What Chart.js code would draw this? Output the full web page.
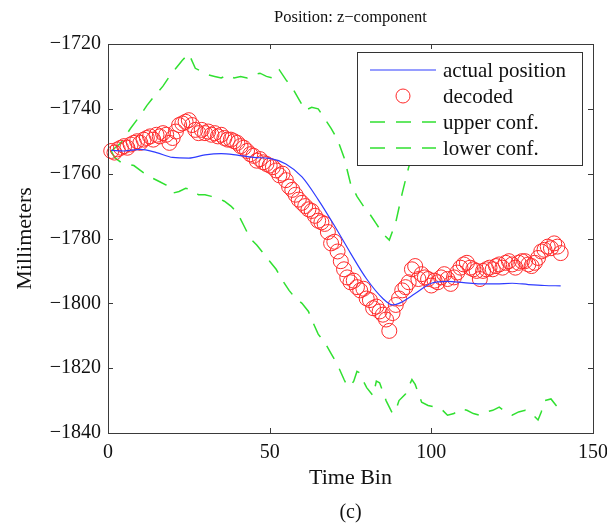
<!DOCTYPE html>
<html>
<head>
<meta charset="utf-8">
<script src="https://cdn.jsdelivr.net/npm/chart.js@4"></script>
<style>
  html, body { margin: 0; padding: 0; background: #fff; }
</style>
</head>
<body>
<canvas id="posChart" width="607" height="529"></canvas>
<script>
// decoded z position, one value per time bin (bins 1..140)
const decoded = [
  -1753, -1753.5, -1752.5, -1752, -1751.5, -1752, -1751, -1750.5, -1750, -1750.5,
  -1749.5, -1749, -1748.5, -1749.5, -1748, -1748.5, -1747.5, -1748, -1750.5, -1749,
  -1747, -1745, -1744.5, -1744, -1743.5, -1745, -1746.5, -1747.5, -1746.5, -1747.5,
  -1747, -1748, -1747.5, -1748.5, -1748, -1749, -1749.5, -1749.5, -1750, -1750.5,
  -1751.5, -1752, -1753, -1754, -1754.5, -1756, -1755.5, -1756.5, -1757, -1757.5,
  -1758, -1759, -1760.5, -1760, -1762, -1764, -1765, -1766.5, -1768, -1769,
  -1770, -1771, -1771.5, -1773, -1774.5, -1775, -1775.5, -1778, -1781.5, -1781,
  -1784, -1787, -1789.5, -1792, -1793.5, -1793, -1795, -1796, -1795.5, -1798.5,
  -1799, -1801.5, -1801, -1802.5, -1803.5, -1805, -1808.5, -1803, -1800.5, -1798.5,
  -1796, -1795, -1793.5, -1789.5, -1788.5, -1792.5, -1791, -1792, -1792.5, -1794.5,
  -1793, -1793.5, -1792, -1791, -1792.5, -1794, -1792, -1790.5, -1789, -1788,
  -1787.5, -1789, -1789.5, -1790, -1792.5, -1790, -1789.5, -1789, -1789.5, -1788.5,
  -1788, -1789, -1787.5, -1787, -1788, -1789, -1787.5, -1787, -1787, -1788,
  -1788.5, -1787.5, -1786, -1784, -1783.5, -1782.5, -1783, -1781.5, -1782.5, -1784.5
];

// actual position (smooth curve)
const actualBins = [1, 5, 10, 15, 20, 25, 30, 35, 40, 45, 50, 55, 60, 65, 70, 75, 80, 85, 88, 90, 95, 100, 105, 110, 115, 120, 125, 130, 135, 140];
const actualPos = [-1752.8, -1753, -1752.5, -1753.5, -1755, -1755.2, -1754.2, -1753.8, -1754.3, -1755, -1755.3, -1757, -1761, -1768, -1776, -1784.5, -1792.5, -1798.5, -1800.5, -1800, -1797, -1793.8, -1793.2, -1793.6, -1794, -1794, -1793.8, -1794.2, -1794.5, -1794.6];

// upper confidence bound (part of it hidden behind the legend)
const upperBins = [1, 4, 7, 10, 12, 14, 17, 19, 21, 23, 25, 27, 29, 31, 33, 35, 37, 39, 41, 43, 45, 47, 49, 51, 53, 55, 57, 59, 61, 63, 65, 67, 69, 71, 73, 75, 77, 79, 81, 83, 85, 87, 89, 91, 93, 95, 97, 100, 105, 110, 115, 120, 125, 130, 135, 140];
const upperConf = [-1753, -1750.5, -1746, -1742, -1739, -1736.5, -1733, -1730, -1727.5, -1725, -1723, -1727.5, -1728.5, -1729.5, -1730, -1730.5, -1729.5, -1730.5, -1730, -1730.5, -1729.5, -1729, -1730, -1730.5, -1728, -1731, -1733.5, -1737, -1740.5, -1739.5, -1740, -1743, -1746, -1749.5, -1755, -1763, -1767, -1770, -1772.5, -1775.5, -1778.5, -1780.5, -1775, -1766, -1758, -1752, -1748, -1746, -1744, -1743, -1745, -1744, -1742, -1743, -1741, -1740];

// lower confidence bound
const lowerBins = [1, 2, 4, 6, 8, 10, 12, 14, 16, 18, 20, 22, 24, 26, 28, 30, 32, 34, 36, 38, 40, 42, 44, 46, 48, 50, 52, 54, 56, 58, 60, 62, 63, 65, 67, 69, 71, 73, 74, 75, 76, 77, 78, 79, 80, 82, 83, 84, 86, 88, 89, 90, 92, 94, 95, 97, 99, 101, 103, 105, 107, 109, 111, 113, 115, 117, 119, 121, 123, 125, 127, 129, 131, 133, 134, 135, 137, 139, 140];
const lowerConf = [-1753, -1755, -1756.5, -1757, -1757.5, -1759, -1760.5, -1761.5, -1762.5, -1763.5, -1766, -1765.5, -1764.5, -1765, -1766.5, -1766.5, -1767, -1767.5, -1768.5, -1770, -1772, -1776, -1780, -1782, -1784.5, -1787, -1789.5, -1793, -1796, -1798.5, -1800, -1802.5, -1805, -1809.5, -1812, -1815.5, -1819, -1823.5, -1825.5, -1825.5, -1824, -1821, -1821.5, -1824, -1826, -1828.5, -1824, -1824.5, -1830, -1834, -1833, -1830, -1828, -1823.5, -1825, -1830.5, -1831.5, -1832, -1832.5, -1834.5, -1834, -1832.5, -1833, -1834, -1834.5, -1833.5, -1833, -1832, -1833.5, -1834.5, -1833.5, -1833, -1834, -1836, -1833.5, -1830, -1829.5, -1832, -1834.5];

const seriesNames = ['actual position', 'decoded', 'upper conf.', 'lower conf.'];
const xTicks = [0, 50, 100, 150];
const yTicks = [-1840, -1820, -1800, -1780, -1760, -1740, -1720];

const serif = "'Liberation Serif', 'DejaVu Serif', serif";
const blue = '#2f3cff';
const red = '#ff2a2a';
const green = '#30e030';

function pairs(xs, ys) {
  return xs.map((x, i) => ({ x: x, y: ys[i] }));
}

// axes box + inward ticks, MATLAB style
const boxPlugin = {
  id: 'box',
  afterDatasetsDraw(chart) {
    const { ctx, chartArea: a, scales } = chart;
    ctx.save();
    ctx.strokeStyle = '#3a3a3a';
    ctx.lineWidth = 1;
    ctx.beginPath();
    xTicks.forEach(v => {
      const px = Math.round(scales.x.getPixelForValue(v)) + 0.5;
      ctx.moveTo(px, a.bottom); ctx.lineTo(px, a.bottom - 5);
      ctx.moveTo(px, a.top); ctx.lineTo(px, a.top + 5);
    });
    yTicks.forEach(v => {
      const py = Math.round(scales.y.getPixelForValue(v)) + 0.5;
      ctx.moveTo(a.left, py); ctx.lineTo(a.left + 5, py);
      ctx.moveTo(a.right, py); ctx.lineTo(a.right - 5, py);
    });
    ctx.stroke();
    ctx.strokeRect(Math.round(a.left) + 0.5, Math.round(a.top) + 0.5,
                   Math.round(a.right - a.left), Math.round(a.bottom - a.top));
    ctx.restore();
  }
};

// legend box inside the axes, drawn over the data
const legendPlugin = {
  id: 'innerLegend',
  afterDatasetsDraw(chart) {
    const ctx = chart.ctx;
    const a = chart.chartArea;
    const bx = a.right - 236, by = a.top + 8, bw = 225, bh = 113;
    ctx.save();
    ctx.fillStyle = '#fff';
    ctx.fillRect(bx, by, bw, bh);
    ctx.strokeStyle = '#333';
    ctx.lineWidth = 1;
    ctx.strokeRect(Math.round(bx) + 0.5, Math.round(by) + 0.5, bw, bh);
    ctx.font = '21px ' + serif;
    ctx.textBaseline = 'middle';
    ctx.fillStyle = '#111';
    const x0 = bx + 13, x1 = bx + 79, tx = bx + 86;
    seriesNames.forEach((name, i) => {
      const y = by + 18 + i * 26;
      ctx.beginPath();
      if (i === 0) {
        ctx.strokeStyle = blue; ctx.lineWidth = 1.2; ctx.setLineDash([]);
        ctx.moveTo(x0, y); ctx.lineTo(x1, y); ctx.stroke();
      } else if (i === 1) {
        ctx.strokeStyle = red; ctx.lineWidth = 1; ctx.setLineDash([]);
        ctx.arc((x0 + x1) / 2, y, 7, 0, Math.PI * 2); ctx.stroke();
      } else {
        ctx.strokeStyle = green; ctx.lineWidth = 1.5; ctx.setLineDash([15, 11]);
        ctx.moveTo(x0, y); ctx.lineTo(x1, y); ctx.stroke();
      }
      ctx.setLineDash([]);
      ctx.fillText(name, tx, y + 1);
    });
    ctx.restore();
  }
};

const ctx = document.getElementById('posChart');
const posChart = new Chart(ctx, {
  type: 'line',
  data: {
    datasets: [
      {
        label: seriesNames[0],
        data: pairs(actualBins, actualPos),
        borderColor: blue,
        borderWidth: 1.2,
        pointRadius: 0,
        cubicInterpolationMode: 'monotone'
      },
      {
        label: seriesNames[1],
        data: decoded.map((v, i) => ({ x: i + 1, y: v })),
        showLine: false,
        pointRadius: 7.5,
        pointBorderWidth: 1,
        pointBorderColor: red,
        pointBackgroundColor: 'rgba(0,0,0,0)',
        clip: false
      },
      {
        label: seriesNames[2],
        data: pairs(upperBins, upperConf),
        borderColor: green,
        borderWidth: 1.5,
        borderDash: [15, 11],
        pointRadius: 0,
        tension: 0
      },
      {
        label: seriesNames[3],
        data: pairs(lowerBins, lowerConf),
        borderColor: green,
        borderWidth: 1.5,
        borderDash: [15, 11],
        pointRadius: 0,
        tension: 0
      }
    ]
  },
  options: {
    responsive: false,
    animation: { duration: 0 },
    layout: { padding: { left: 0, right: 14, top: 0, bottom: 0 } },
    plugins: {
      legend: { display: false },
      tooltip: { enabled: false },
      title: {
        display: true,
        fullSize: false,
        text: 'Position: z\u2212component',
        color: '#111',
        font: { family: serif, size: 16.5, weight: 'normal' },
        padding: { top: 8, bottom: 16.2 }
      },
      subtitle: {
        display: true,
        fullSize: false,
        position: 'bottom',
        text: '(c)',
        color: '#111',
        font: { family: serif, size: 20, weight: 'normal' },
        padding: { top: 0, bottom: 4 }
      }
    },
    scales: {
      x: {
        type: 'linear',
        min: 0,
        max: 150,
        afterBuildTicks: s => { s.ticks = xTicks.map(v => ({ value: v })); },
        afterFit: s => { s.height = 68; s.paddingRight = 0; s.paddingLeft = 0; },
        grid: { display: false, drawTicks: false },
        border: { display: false },
        ticks: { color: '#111', padding: 8, maxRotation: 0, font: { family: serif, size: 20 } },
        title: {
          display: true,
          text: 'Time Bin',
          color: '#111',
          font: { family: serif, size: 22 },
          padding: { top: 0, bottom: 10 }
        }
      },
      y: {
        type: 'linear',
        min: -1840,
        max: -1720,
        afterBuildTicks: s => { s.ticks = yTicks.map(v => ({ value: v })); },
        afterFit: s => { s.width = 108; },
        grid: { display: false, drawTicks: false },
        border: { display: false },
        ticks: {
          color: '#111',
          padding: 7,
          font: { family: serif, size: 20 },
          callback: v => String(v).replace('-', '\u2212')
        },
        title: {
          display: true,
          text: 'Millimeters',
          color: '#111',
          font: { family: serif, size: 22 },
          padding: { top: 12, bottom: 0 }
        }
      }
    }
  },
  plugins: [boxPlugin, legendPlugin]
});
</script>
</body>
</html>
